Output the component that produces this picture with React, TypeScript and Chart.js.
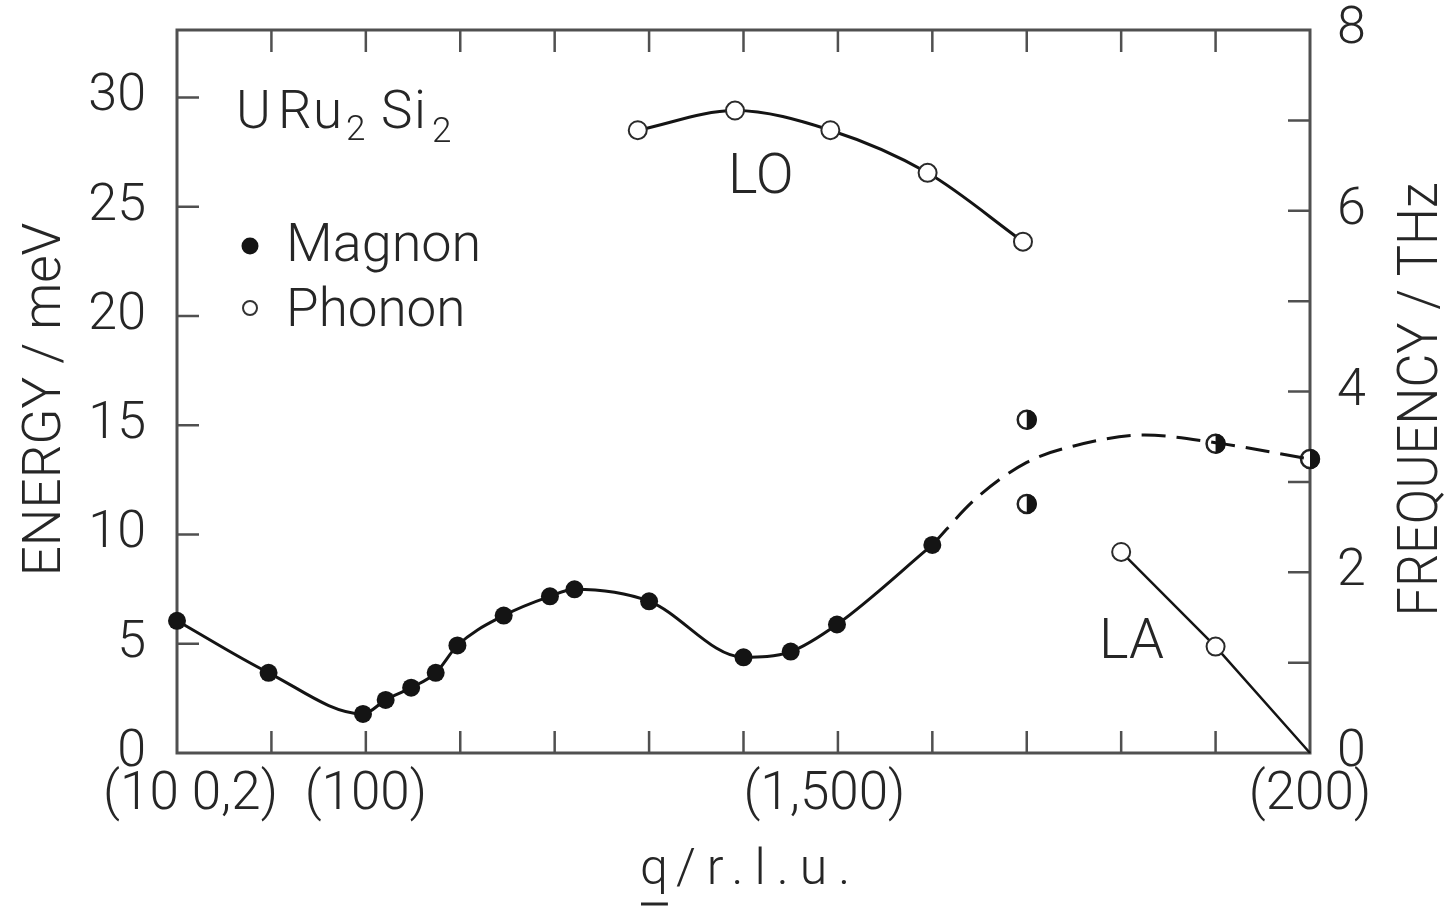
import React, { useEffect, useRef } from 'react';
import { Chart, registerables } from 'chart.js';

Chart.register(...registerables);

// ---------------- data ----------------
const MEV_PER_THZ = 4.1357;
const FREQ_MAX = 8; // THz (right axis)
const ENERGY_MAX = FREQ_MAX * MEV_PER_THZ; // meV (left axis, aligned with right)
const Q_MIN = -2;
const Q_MAX = 10;

// x positions are in steps of 0.1 r.l.u.: -2 = (1 0 0.2), 0 = (100), 5 = (1.5 0 0), 10 = (200)
const xTickLabels: Record<string, string> = {
  '-2': '\u2002(10 0,2)',
  '0': '(100)',
  '5': '(1,500)\u2002',
  '10': '(200)',
};

const magnonQ = [-2, -1.03, -0.03, 0.21, 0.48, 0.74, 0.97, 1.46, 1.95, 2.21, 3.0, 4.0, 4.5, 4.99, 6.0];
const magnonE = [6.05, 3.67, 1.79, 2.43, 2.99, 3.67, 4.92, 6.29, 7.17, 7.49, 6.94, 4.38, 4.64, 5.88, 9.52];

const magnonHalfQ = [7, 7, 9, 10];
const magnonHalfE = [15.25, 11.4, 14.15, 13.45];

const magnonDashQ = [6.0, 6.45, 7.0, 7.5, 8.25, 9.0, 10.0];
const magnonDashE = [9.52, 11.6, 13.3, 14.05, 14.55, 14.2, 13.45];

const loQ = [2.88, 3.91, 4.92, 5.95, 6.96];
const loE = [28.5, 29.4, 28.5, 26.55, 23.4];

const laQ = [8, 9, 10];
const laE = [9.2, 4.87, 0];

// ---------------- styling ----------------
const FONT = "Roboto, 'Liberation Sans', Arial, sans-serif";
const WEIGHT = 300;
const INK = '#141414';
const TEXT = '#262626';
const FRAME = '#505050';
const HALF_INDEX = 2;
const HALF_R = 10;

const pts = (xs: number[], ys: number[]) => xs.map((x, i) => ({ x, y: ys[i] }));

function drawText(
  ctx: CanvasRenderingContext2D,
  s: string,
  x: number,
  y: number,
  size: number,
  opts: { align?: CanvasTextAlign; rot?: number; sx?: number; spacing?: number } = {}
) {
  ctx.save();
  ctx.translate(x, y);
  if (opts.rot) ctx.rotate(opts.rot);
  ctx.scale(opts.sx ?? 1, 1);
  ctx.font = `${WEIGHT} ${size}px ${FONT}`;
  (ctx as any).letterSpacing = `${opts.spacing ?? 0}px`;
  ctx.fillStyle = TEXT;
  ctx.textAlign = opts.align ?? 'left';
  ctx.textBaseline = 'alphabetic';
  ctx.fillText(s, 0, 0);
  ctx.restore();
}

const framePlugin = {
  id: 'frameTicks',
  beforeDatasetsDraw(chart: any) {
    const { ctx, chartArea: a, scales } = chart;
    const x = scales.x;
    const y = scales.y;
    const y2 = scales.y2;
    const L = 22;
    ctx.save();
    ctx.strokeStyle = FRAME;
    ctx.lineWidth = 3;
    ctx.strokeRect(a.left, a.top, a.right - a.left, a.bottom - a.top);
    ctx.lineWidth = 2.5;
    ctx.beginPath();
    x.ticks.forEach((t: any) => {
      if (t.value <= Q_MIN || t.value >= Q_MAX) return;
      const px = x.getPixelForValue(t.value);
      ctx.moveTo(px, a.bottom);
      ctx.lineTo(px, a.bottom - L);
      ctx.moveTo(px, a.top);
      ctx.lineTo(px, a.top + L);
    });
    y.ticks.forEach((t: any) => {
      if (t.value <= 0) return;
      const py = y.getPixelForValue(t.value);
      ctx.moveTo(a.left, py);
      ctx.lineTo(a.left + L, py);
    });
    y2.ticks.forEach((t: any) => {
      if (t.value <= 0 || t.value >= FREQ_MAX) return;
      const py = y2.getPixelForValue(t.value);
      ctx.moveTo(a.right, py);
      ctx.lineTo(a.right - L, py);
    });
    ctx.stroke();
    ctx.restore();
  },
  afterDatasetsDraw(chart: any) {
    // fill the right half of the split magnon markers
    const { ctx } = chart;
    const meta = chart.getDatasetMeta(HALF_INDEX);
    ctx.save();
    ctx.fillStyle = INK;
    meta.data.forEach((el: any) => {
      ctx.beginPath();
      ctx.arc(el.x, el.y, HALF_R, -Math.PI / 2, Math.PI / 2);
      ctx.closePath();
      ctx.fill();
    });
    ctx.restore();
  },
  afterDraw(chart: any) {
    const { ctx, chartArea: a } = chart;
    const cy = (a.top + a.bottom) / 2 + 8;
    // axis titles
    drawText(ctx, 'ENERGY / meV', 60, cy, 53, { align: 'center', rot: -Math.PI / 2, sx: 1.0 });
    drawText(ctx, 'FREQUENCY / THz', 1437, cy, 55, { align: 'center', rot: -Math.PI / 2, sx: 0.95 });
    // x title with underlined q
    ctx.save();
    ctx.font = `${WEIGHT} 50px ${FONT}`;
    const qW = ctx.measureText('q').width;
    ctx.restore();
    const qx = 640;
    drawText(ctx, 'q', qx, 884, 50);
    drawText(ctx, '/r.l.u.', qx + qW + 8, 884, 50, { spacing: 11 });
    ctx.save();
    ctx.strokeStyle = TEXT;
    ctx.lineWidth = 3;
    ctx.beginPath();
    ctx.moveTo(qx + 1, 904);
    ctx.lineTo(qx + qW, 904);
    ctx.stroke();
    ctx.restore();

    // compound formula URu2Si2
    drawText(ctx, 'U', 236, 128, 53);
    drawText(ctx, 'R', 278, 128, 53);
    drawText(ctx, 'u', 313, 128, 53);
    drawText(ctx, '2', 346, 140, 35);
    drawText(ctx, 'S', 381, 128, 53);
    drawText(ctx, 'i', 414, 128, 53);
    drawText(ctx, '2', 432, 142, 35);

    // legend
    ctx.save();
    ctx.fillStyle = INK;
    ctx.beginPath();
    ctx.arc(250, 246, 8.5, 0, Math.PI * 2);
    ctx.fill();
    ctx.strokeStyle = '#333';
    ctx.lineWidth = 2;
    ctx.beginPath();
    ctx.arc(250, 308, 7, 0, Math.PI * 2);
    ctx.stroke();
    ctx.restore();
    drawText(ctx, 'Magnon', 286, 261, 54);
    drawText(ctx, 'Phonon', 286, 326, 53);

    // branch labels
    drawText(ctx, 'LO', 728, 193, 56);
    drawText(ctx, 'LA', 1099, 658, 56);
  },
};

const noVertPad = (width: number) => (s: any) => {
  s.width = width;
  s.paddingTop = 0;
  s.paddingBottom = 0;
};

export default function App() {
  const ref = useRef<HTMLCanvasElement | null>(null);

  useEffect(() => {
    if (!ref.current) return;
    const tickFont = { family: FONT, size: 52, weight: WEIGHT as any };
    const chart = new Chart(ref.current, {
      type: 'scatter',
      data: {
        datasets: [
          {
            label: 'Magnon',
            data: pts(magnonQ, magnonE),
            showLine: true,
            borderColor: INK,
            borderWidth: 3,
            tension: 0.4,
            cubicInterpolationMode: 'monotone',
            pointRadius: 9,
            pointBackgroundColor: INK,
            pointBorderColor: INK,
            pointBorderWidth: 0,
            clip: false,
          },
          {
            label: 'Magnon (dashed fit)',
            data: pts(magnonDashQ, magnonDashE),
            showLine: true,
            borderColor: INK,
            borderWidth: 3,
            borderDash: [24, 11],
            tension: 0.4,
            cubicInterpolationMode: 'monotone',
            pointRadius: 0,
            clip: false,
          },
          {
            label: 'Magnon (split)',
            data: pts(magnonHalfQ, magnonHalfE),
            showLine: false,
            pointRadius: HALF_R - 1,
            pointBackgroundColor: '#ffffff',
            pointBorderColor: '#222222',
            pointBorderWidth: 2.5,
            clip: false,
          },
          {
            label: 'LO phonon',
            data: pts(loQ, loE),
            showLine: true,
            borderColor: INK,
            borderWidth: 3,
            tension: 0.4,
            cubicInterpolationMode: 'monotone',
            pointRadius: 9,
            pointBackgroundColor: '#ffffff',
            pointBorderColor: '#2a2a2a',
            pointBorderWidth: 2,
            clip: false,
          },
          {
            label: 'LA phonon',
            data: pts(laQ, laE),
            showLine: true,
            borderColor: INK,
            borderWidth: 2.5,
            tension: 0,
            pointRadius: [9, 9, 0],
            pointBackgroundColor: '#ffffff',
            pointBorderColor: '#2a2a2a',
            pointBorderWidth: 2,
            clip: false,
          },
        ],
      },
      options: {
        animation: false,
        responsive: false,
        devicePixelRatio: 1,
        layout: { padding: { top: 30, left: 0, right: 0, bottom: 0 } },
        plugins: { legend: { display: false }, tooltip: { enabled: false } },
        scales: {
          x: {
            type: 'linear',
            position: 'bottom',
            min: Q_MIN,
            max: Q_MAX,
            grid: { display: false, drawTicks: false },
            border: { display: false },
            ticks: {
              stepSize: 1,
              autoSkip: false,
              maxRotation: 0,
              minRotation: 0,
              padding: 11,
              color: TEXT,
              font: { ...tickFont, size: 53 },
              callback: (v: any) => xTickLabels[String(v)] ?? '',
            },
            afterFit: (s: any) => {
              s.height = 161;
              s.paddingLeft = 0;
              s.paddingRight = 0;
            },
          },
          y: {
            type: 'linear',
            position: 'left',
            min: 0,
            max: ENERGY_MAX,
            grid: { display: false, drawTicks: false },
            border: { display: false },
            ticks: {
              stepSize: 5,
              includeBounds: false,
              padding: 31,
              color: TEXT,
              font: tickFont,
            },
            afterFit: noVertPad(177),
          },
          y2: {
            type: 'linear',
            position: 'right',
            min: 0,
            max: FREQ_MAX,
            grid: { display: false, drawTicks: false },
            border: { display: false },
            ticks: {
              stepSize: 1,
              autoSkip: false,
              padding: 27,
              color: TEXT,
              font: tickFont,
              callback: (v: any) => (Number(v) % 2 === 0 ? String(v) : ''),
            },
            afterFit: noVertPad(136),
          },
        },
      } as any,
      plugins: [framePlugin as any],
    });
    return () => chart.destroy();
  }, []);

  return (
    <div style={{ position: 'absolute', left: 0, top: 0, width: 1446, height: 914, background: '#fff' }}>
      <canvas ref={ref} width={1446} height={914} style={{ display: 'block', width: 1446, height: 914 }} />
    </div>
  );
}
